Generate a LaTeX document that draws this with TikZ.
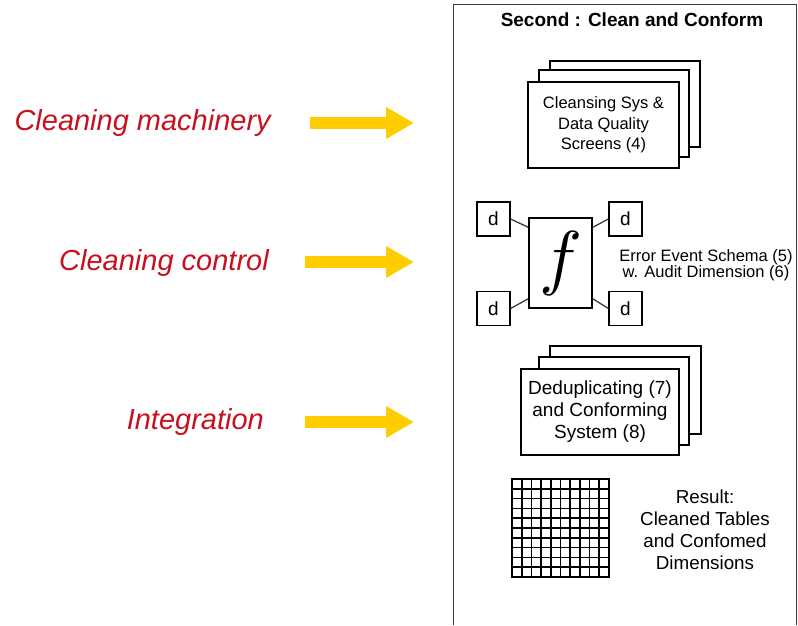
\documentclass[tikz,border=0pt]{standalone}
\usepackage{fontspec}
\usepackage{graphicx}
\setmainfont{Liberation Sans}
\usetikzlibrary{arrows.meta}
\definecolor{lblred}{RGB}{200,16,32}
\definecolor{arrowyellow}{RGB}{255,204,0}
\definecolor{framegray}{RGB}{60,60,60}
\begin{document}
\begin{tikzpicture}[x=1pt,y=-1pt,
  lbl/.style={anchor=east,text=lblred,inner sep=0pt,font=\fontsize{29}{29}\selectfont\itshape},
  bigarrow/.style={line width=12pt,arrowyellow,-{Triangle[length=28pt,width=30pt]}},
  sheet/.style={draw,line width=1.2pt,fill=white,inner sep=0pt},
  dbox/.style={draw,line width=1.2pt,fill=white,minimum width=33pt,minimum height=34pt,inner sep=0pt,font=\fontsize{19}{19}\selectfont},
  link/.style={draw=framegray,line width=1.3pt},
  gridline/.style={line width=1.7pt}]
\useasboundingbox (0,0) rectangle (798,625);
% outer frame
\draw[framegray,line width=1.4pt] (453.5,625) -- (453.5,4.5) -- (796.5,4.5) -- (796.5,625);
\node[font=\fontsize{19}{19}\selectfont\bfseries] (title) at (632,20) {Second : Clean and Conform};
% left labels and arrows
\node[lbl] (l1) at (271,123) {Cleaning machinery};
\node[lbl] (l2) at (269,263) {Cleaning control};
\node[lbl] (l3) at (264,422) {Integration};
\coordinate (a1s) at (310,123); \coordinate (a1e) at (414,123);
\coordinate (a2s) at (305,262); \coordinate (a2e) at (414,262);
\coordinate (a3s) at (305,422); \coordinate (a3e) at (414,422);
\draw[bigarrow] (a1s) -- (a1e);
\draw[bigarrow] (a2s) -- (a2e);
\draw[bigarrow] (a3s) -- (a3e);
% cleansing stack
\node[sheet,minimum width=150pt,minimum height=86pt] (cs3) at (625,104) {};
\node[sheet,minimum width=150pt,minimum height=87pt] (cs2) at (614,113.5) {};
\node[sheet,minimum width=151pt,minimum height=86pt,align=center,font=\fontsize{16.5}{20.5}\selectfont] (cs1) at (603.5,125) {Cleansing Sys \&\\Data Quality\\Screens (4)};
% f with d boxes
\node[draw,line width=1.2pt,minimum width=63pt,minimum height=90pt,inner sep=0pt] (f) at (560.5,263) {\normalsize\scalebox{7.2}{$f$}};
\node[dbox] (dtl) at (493.5,219) {d};
\node[dbox] (dbl) at (493.5,308.5) {d};
\node[dbox] (dtr) at (625.5,219) {d};
\node[dbox] (dbr) at (625.5,308.5) {d};
\draw[link] (dtl.east) -- (f.132);
\draw[link] (dtr.west) -- (f.48);
\draw[link] (dbl.east) -- (f.228);
\draw[link] (dbr.west) -- (f.312);
\node[align=center,font=\fontsize{16.5}{16}\selectfont,inner sep=0pt] (err) at (706,265) {Error Event Schema (5)\\w. Audit Dimension (6)};
% dedup stack
\node[sheet,minimum width=151pt,minimum height=88pt] (dd3) at (625.5,390) {};
\node[sheet,minimum width=150pt,minimum height=88pt] (dd2) at (614,401) {};
\node[sheet,minimum width=158pt,minimum height=86pt,align=center,font=\fontsize{19}{22}\selectfont] (dd1) at (600,412) {Deduplicating (7)\\and Conforming\\System (8)};
% grid
\node[draw,gridline,minimum width=97pt,minimum height=98pt,inner sep=0pt] (grid) at (560.5,528) {};
\foreach \i in {1,...,9} {
  \draw[gridline] (512+9.7*\i,479) -- (512+9.7*\i,577);
  \draw[gridline] (512,479+9.8*\i) -- (609,479+9.8*\i);
}
\node[align=center,font=\fontsize{18.8}{22}\selectfont,inner sep=0pt] (res) at (705,530) {Result:\\Cleaned Tables\\and Confomed\\Dimensions};
\end{tikzpicture}
\end{document}
